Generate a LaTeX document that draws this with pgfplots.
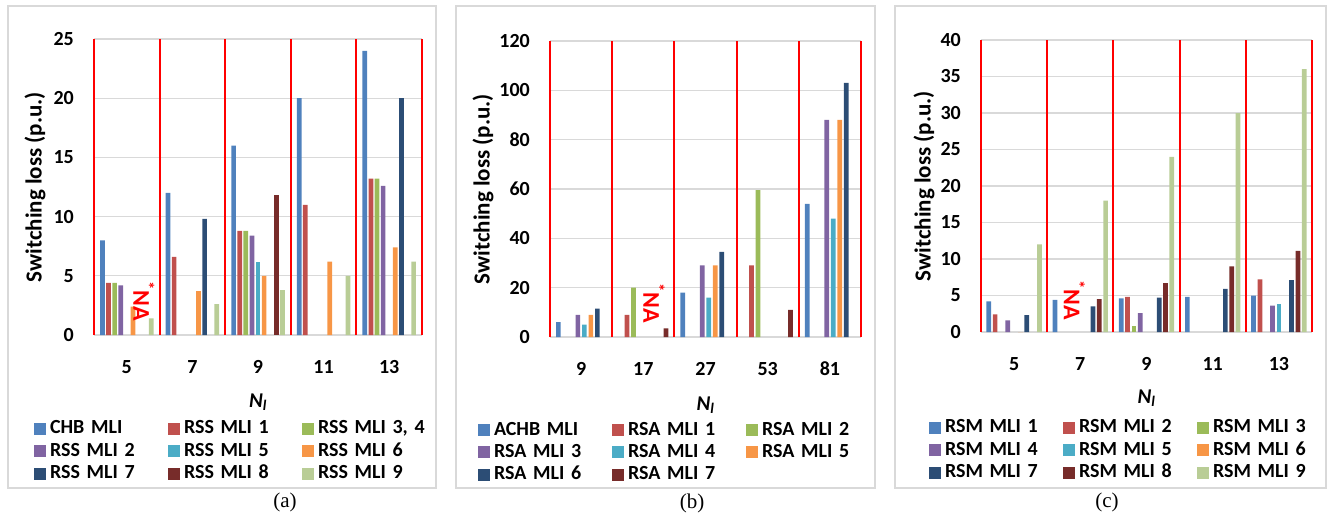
\documentclass[border=0pt]{standalone}
\usepackage{pgfplots}
\pgfplotsset{compat=1.18}
\usepackage{fontspec}
\setmainfont{Carlito}
\newfontfamily\capfont{Liberation Serif}
\definecolor{c1}{HTML}{4F81BD}
\definecolor{c2}{HTML}{C0504D}
\definecolor{c3}{HTML}{9BBB59}
\definecolor{c4}{HTML}{8064A2}
\definecolor{c5}{HTML}{4BACC6}
\definecolor{c6}{HTML}{F79646}
\definecolor{c7}{HTML}{2C4D75}
\definecolor{c8}{HTML}{772C2A}
\definecolor{c9}{HTML}{B9CD96}
\definecolor{gridgray}{HTML}{D9D9D9}
\tikzset{nastyle/.style={rotate=-90, text=red, font=\fontsize{24}{26}\selectfont\bfseries, inner sep=0pt}}
\pgfplotsset{
  sq/.style={fill=#1, draw=none, legend image code/.code={\fill[fill=#1] (0pt,-6pt) rectangle (12pt,6pt);}},
  panel/.style={
    scale only axis,
    anchor=south west,
    enlargelimits=false,
    xmin=-0.5, xmax=4.5, ymin=0,
    xtick={0,1,2,3,4},
    extra x ticks={-0.5,0.5,1.5,2.5,3.5,4.5},
    extra x tick labels={},
    extra x tick style={xmajorgrids=true, major grid style={color=red, line width=2pt}},
    ymajorgrids=true, xmajorgrids=false,
    major y grid style={color=gridgray, line width=1.3pt},
    axis line style={draw=none},
    major tick style={draw=none}, minor tick style={draw=none},
    tick label style={font=\fontsize{20}{24}\selectfont\bfseries},
    /pgf/number format/assume math mode=true,
    yticklabel style={anchor=east, inner sep=0pt, xshift=-20pt},
    xticklabel style={anchor=center, inner sep=0pt},
    ylabel={Switching loss (p.u.)},
    xlabel={\textbf{\textit{N}}\textsubscript{\textbf{\textit{l}}}},
    xlabel style={font=\fontsize{21}{24}\selectfont, anchor=center},
    ylabel style={font=\fontsize{23}{26}\selectfont\bfseries, anchor=center},
    legend columns=3,
    legend cell align=left,
    legend style={draw=none, fill=none, inner sep=0pt, outer sep=0pt, anchor=north west,
      font=\fontsize{20}{24}\selectfont\bfseries, column sep=0pt, row sep=4.3pt,
      nodes={inner xsep=4pt, inner ysep=0pt, text width=114pt, align=left, text height=14pt, text depth=4pt}},
  },
}
\begin{document}
\begin{tikzpicture}
\path[use as bounding box] (0pt,0pt) rectangle (1329pt,-514pt);
\draw[gridgray, line width=1.5pt] (8pt,-6pt) rectangle (436pt,-488pt);
\draw[gridgray, line width=1.5pt] (456pt,-6pt) rectangle (875pt,-488pt);
\draw[gridgray, line width=1.5pt] (895pt,-6pt) rectangle (1326pt,-488pt);

% ---------- (a)
\begin{axis}[panel, at={(94pt,-335pt)}, width=328pt, height=296pt,
  ymax=25, ytick={0,5,10,15,20,25},
  xticklabels={5,7,9,11,13},
  xticklabel style={yshift=-27.5pt},
  ybar=1.4pt, bar width=4.7pt,
  ylabel style={at={(axis description cs:-0.18,0.5)}},
  xlabel style={at={(axis description cs:0.5,-0.226)}},
  legend style={at={(axis description cs:-0.1829,-0.2871)}},
]
\addplot[sq=c1] coordinates {(0,8) (1,12) (2,16) (3,20) (4,24)};
\addplot[sq=c2] coordinates {(0,4.4) (1,6.6) (2,8.8) (3,11) (4,13.2)};
\addplot[sq=c3] coordinates {(0,4.4) (2,8.8) (4,13.2)};
\addplot[sq=c4] coordinates {(0,4.2) (2,8.4) (4,12.6)};
\addplot[sq=c5] coordinates {(2,6.2)};
\addplot[sq=c6] coordinates {(0,2.4) (1,3.7) (2,5) (3,6.2) (4,7.4)};
\addplot[sq=c7] coordinates {(1,9.8) (4,20)};
\addplot[sq=c8] coordinates {(2,11.8)};
\addplot[sq=c9] coordinates {(0,1.4) (1,2.6) (2,3.8) (3,5) (4,6.2)};
\legend{CHB MLI, RSS MLI 1, {RSS MLI 3, 4}, RSS MLI 2, RSS MLI 5, RSS MLI 6, RSS MLI 7, RSS MLI 8, RSS MLI 9}
\node[nastyle] at (axis cs:0.262,2.87) {\textsuperscript{*}NA};
\end{axis}

% ---------- (b)
\begin{axis}[panel, at={(550pt,-337pt)}, width=311pt, height=296pt,
  ymax=120, ytick={0,20,40,60,80,100,120},
  xticklabels={9,17,27,53,81},
  xticklabel style={yshift=-27.5pt},
  ybar=1.8pt, bar width=4.7pt,
  ylabel style={at={(axis description cs:-0.215,0.5)}},
  xlabel style={at={(axis description cs:0.5,-0.23)}},
  legend style={at={(axis description cs:-0.2315,-0.2838)}},
]
\addplot[sq=c1] coordinates {(0,6) (2,18) (4,54)};
\addplot[sq=c2] coordinates {(1,9) (3,29)};
\addplot[sq=c3] coordinates {(1,20) (3,59.5)};
\addplot[sq=c4] coordinates {(0,9) (2,29) (4,88)};
\addplot[sq=c5] coordinates {(0,5) (2,16) (4,48)};
\addplot[sq=c6] coordinates {(0,9) (2,29) (4,88)};
\addplot[sq=c7] coordinates {(0,11.5) (2,34.5) (4,103)};
\addplot[sq=c8] coordinates {(1,3.5) (3,11)};
\legend{ACHB MLI, RSA MLI 1, RSA MLI 2, RSA MLI 3, RSA MLI 4, RSA MLI 5, RSA MLI 6, RSA MLI 7}
\node[nastyle] at (axis cs:1.172,13.8) {\textsuperscript{*}NA};
\end{axis}

% ---------- (c)
\begin{axis}[panel, at={(981pt,-332pt)}, width=331pt, height=292pt,
  ymax=40, ytick={0,5,10,15,20,25,30,35,40},
  xticklabels={5,7,9,11,13},
  xticklabel style={yshift=-28pt},
  ybar=1.63pt, bar width=4.7pt,
  ylabel style={at={(axis description cs:-0.172,0.5)}},
  xlabel style={at={(axis description cs:0.5,-0.226)}},
  legend style={at={(axis description cs:-0.1571,-0.2979)}},
]
\addplot[sq=c1] coordinates {(0,4.2) (1,4.4) (2,4.6) (3,4.8) (4,5)};
\addplot[sq=c2] coordinates {(0,2.4) (2,4.8) (4,7.2)};
\addplot[sq=c3] coordinates {(2,0.8)};
\addplot[sq=c4] coordinates {(0,1.6) (2,2.6) (4,3.6)};
\addplot[sq=c5] coordinates {(4,3.8)};
\addplot[sq=c6] coordinates {(0,0)};
\addplot[sq=c7] coordinates {(0,2.3) (1,3.5) (2,4.7) (3,5.9) (4,7.1)};
\addplot[sq=c8] coordinates {(1,4.5) (2,6.7) (3,9) (4,11.1)};
\addplot[sq=c9] coordinates {(0,12) (1,18) (2,24) (3,30) (4,36)};
\legend{RSM MLI 1, RSM MLI 2, RSM MLI 3, RSM MLI 4, RSM MLI 5, RSM MLI 6, RSM MLI 7, RSM MLI 8, RSM MLI 9}
\node[nastyle] at (axis cs:0.912,4.38) {\textsuperscript{*}NA};
\end{axis}

\node[font=\capfont\fontsize{21}{24}\selectfont] at (285pt,-502pt) {(a)};
\node[font=\capfont\fontsize{21}{24}\selectfont] at (692pt,-503pt) {(b)};
\node[font=\capfont\fontsize{21}{24}\selectfont] at (1107pt,-502pt) {(c)};
\end{tikzpicture}
\end{document}
